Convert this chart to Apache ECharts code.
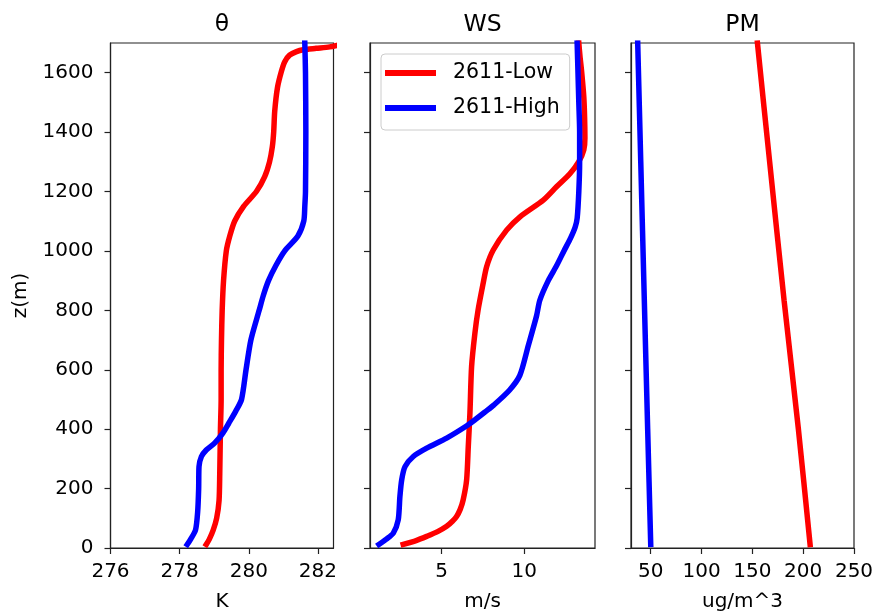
<!DOCTYPE html>
<html><head><meta charset="utf-8">
<script src="https://cdn.jsdelivr.net/npm/echarts@6/dist/echarts.min.js"></script>
<style>html,body{margin:0;padding:0;background:#fff}#c{width:872px;height:612px}</style>
</head><body><div id="c"></div>
<script>
// ---- labels ----
const seriesNames = ['2611-Low', '2611-High'];
const panelTitles = ['θ', 'WS', 'PM'];
const unitNames = ['K', 'm/s', 'ug/m^3'];
const zName = 'z(m)';

// ---- tick labels ----
const zTicks = [0, 200, 400, 600, 800, 1000, 1200, 1400, 1600];
const thetaTicks = [276, 278, 280, 282];
const wsTicks = [5, 10];
const pmTicks = [50, 100, 150, 200, 250];

// ---- θ (K) ----
const zThetaLow = [12, 30, 60, 100, 160, 250, 400, 500, 600, 700, 800, 900, 1000, 1050, 1100, 1150, 1200, 1250, 1300, 1350, 1400, 1470, 1550, 1603, 1637, 1659, 1671, 1677, 1682, 1687, 1692];
const thetaLow = [278.77, 278.86, 278.97, 279.07, 279.14, 279.16, 279.18, 279.20, 279.20, 279.21, 279.23, 279.27, 279.35, 279.45, 279.59, 279.85, 280.22, 280.46, 280.60, 280.68, 280.72, 280.75, 280.83, 280.94, 281.04, 281.18, 281.38, 281.57, 281.95, 282.34, 282.55];
const zThetaHigh = [12, 30, 61, 120, 200, 274, 308, 330, 353, 387, 420, 460, 500, 600, 700, 800, 850, 900, 950, 1000, 1050, 1100, 1150, 1200, 1400, 1600, 1700];
const thetaHigh = [278.22, 278.32, 278.46, 278.52, 278.55, 278.56, 278.63, 278.77, 279.01, 279.25, 279.42, 279.62, 279.79, 279.92, 280.06, 280.30, 280.42, 280.57, 280.78, 281.04, 281.42, 281.59, 281.62, 281.64, 281.65, 281.64, 281.62];

// ---- WS (m/s) ----
const zWsLow = [12, 25, 39, 55, 73, 90, 106, 130, 162, 230, 342, 455, 611, 723, 800, 891, 947, 1003, 1070, 1115, 1171, 1216, 1260, 1301, 1340, 1380, 1450, 1520, 1604, 1650, 1700];
const wsLow = [2.67, 3.45, 4.09, 4.75, 5.30, 5.65, 5.90, 6.12, 6.30, 6.51, 6.61, 6.71, 6.81, 7.01, 7.20, 7.51, 7.72, 8.12, 8.93, 9.74, 11.15, 11.95, 12.76, 13.30, 13.60, 13.67, 13.65, 13.60, 13.47, 13.38, 13.30];
const zWsHigh = [12, 30, 50, 95, 173, 230, 274, 308, 336, 370, 409, 431, 459, 481, 531, 581, 681, 781, 834, 900, 950, 1000, 1043, 1080, 1110, 1200, 1300, 1400, 1500, 1600, 1700];
const wsHigh = [1.20, 1.65, 2.07, 2.37, 2.47, 2.58, 2.78, 3.28, 4.09, 5.30, 6.45, 7.00, 7.65, 8.15, 9.10, 9.73, 10.24, 10.74, 10.94, 11.45, 11.95, 12.40, 12.80, 13.08, 13.20, 13.30, 13.35, 13.35, 13.30, 13.25, 13.20];

// ---- PM (ug/m^3) ----
const zPm = [12, 400, 834, 1300, 1700];
const pmLow = [206.8, 195.3, 181.2, 167.0, 155.0];
const pmHigh = [50.0, 47.0, 43.7, 40.2, 37.2];

// ---- build ----
const FONT = 'DejaVu Sans';
const RED = '#ff0000', BLUE = '#0000ff';
const pair = (xs, zs) => xs.map((v, i) => [v, zs[i]]);
const plain = v => String(v);

const gridLefts = [110.5, 370, 631];
const gridWidths = [223, 225, 223];
const grids = gridLefts.map((l, i) => ({
  left: l, top: 43, width: gridWidths[i], height: 505,
  outerBoundsMode: 'none', containLabel: false,
  show: true, borderColor: '#222', borderWidth: 1.2, backgroundColor: 'transparent'
}));

const xRanges = [[276, 282.45], [0.66, 14.28], [30.6, 250]];
const xTickSets = [thetaTicks, wsTicks, pmTicks];

const xAxes = xRanges.map((r, i) => ({
  type: 'value', gridIndex: i, min: r[0], max: r[1],
  name: unitNames[i], nameLocation: 'middle', nameGap: 44,
  nameTextStyle: { fontFamily: FONT, fontSize: 20, color: '#000' },
  axisLine: { show: true, lineStyle: { color: '#222', width: 1.2 } },
  axisTick: { show: true, inside: false, length: 6, customValues: xTickSets[i], lineStyle: { color: '#222', width: 1.2 } },
  axisLabel: { customValues: xTickSets[i], formatter: plain, fontFamily: FONT, fontSize: 20, color: '#000', margin: 14 },
  splitLine: { show: false }
}));

const yAxes = [0, 1, 2].map(i => ({
  type: 'value', gridIndex: i, min: 0, max: 1700,
  name: i === 0 ? zName : '', nameLocation: 'middle', nameGap: 80,
  nameTextStyle: { fontFamily: FONT, fontSize: 20, color: '#000' },
  axisLine: { show: true, lineStyle: { color: '#222', width: 1.2 } },
  axisTick: { show: true, inside: false, length: 6, customValues: zTicks, lineStyle: { color: '#222', width: 1.2 } },
  axisLabel: { show: i === 0, customValues: zTicks, formatter: plain, fontFamily: FONT, fontSize: 20, color: '#000', margin: 17 },
  splitLine: { show: false }
}));

function line(name, color, data, idx) {
  return {
    name, type: 'line', xAxisIndex: idx, yAxisIndex: idx, data,
    showSymbol: false, symbol: 'none', smooth: 0.25, animation: false,
    color, itemStyle: { color },
    lineStyle: { color, width: 5.5, cap: 'square' }, clip: true
  };
}

const series = [
  line(seriesNames[0], RED, pair(thetaLow, zThetaLow), 0),
  line(seriesNames[1], BLUE, pair(thetaHigh, zThetaHigh), 0),
  line(seriesNames[0], RED, pair(wsLow, zWsLow), 1),
  line(seriesNames[1], BLUE, pair(wsHigh, zWsHigh), 1),
  line(seriesNames[0], RED, pair(pmLow, zPm), 2),
  line(seriesNames[1], BLUE, pair(pmHigh, zPm), 2)
];

const titleCenters = gridLefts.map((l, i) => l + gridWidths[i] / 2);
const graphic = panelTitles.map((t, i) => ({
  type: 'text', x: titleCenters[i], y: 24.5,
  style: { text: t, font: '23.5px "' + FONT + '"', fill: '#000', textAlign: 'center', textVerticalAlign: 'middle' }
}));

const chart = echarts.init(document.getElementById('c'), null, { renderer: 'canvas' });
chart.setOption({
  backgroundColor: '#fff',
  animation: false,
  grid: grids,
  xAxis: xAxes,
  yAxis: yAxes,
  series,
  graphic,
  legend: {
    data: seriesNames, orient: 'vertical', left: 381, top: 54,
    backgroundColor: 'rgba(255,255,255,0.8)', borderColor: '#ccc', borderWidth: 1, borderRadius: 4,
    padding: [8, 10, 11, 4], itemGap: 13, itemWidth: 51, itemHeight: 6, icon: 'rect',
    textStyle: { fontFamily: FONT, fontSize: 20.5, color: '#000', lineHeight: 22, padding: [0, 0, 0, 12] }
  }
});
</script></body></html>
